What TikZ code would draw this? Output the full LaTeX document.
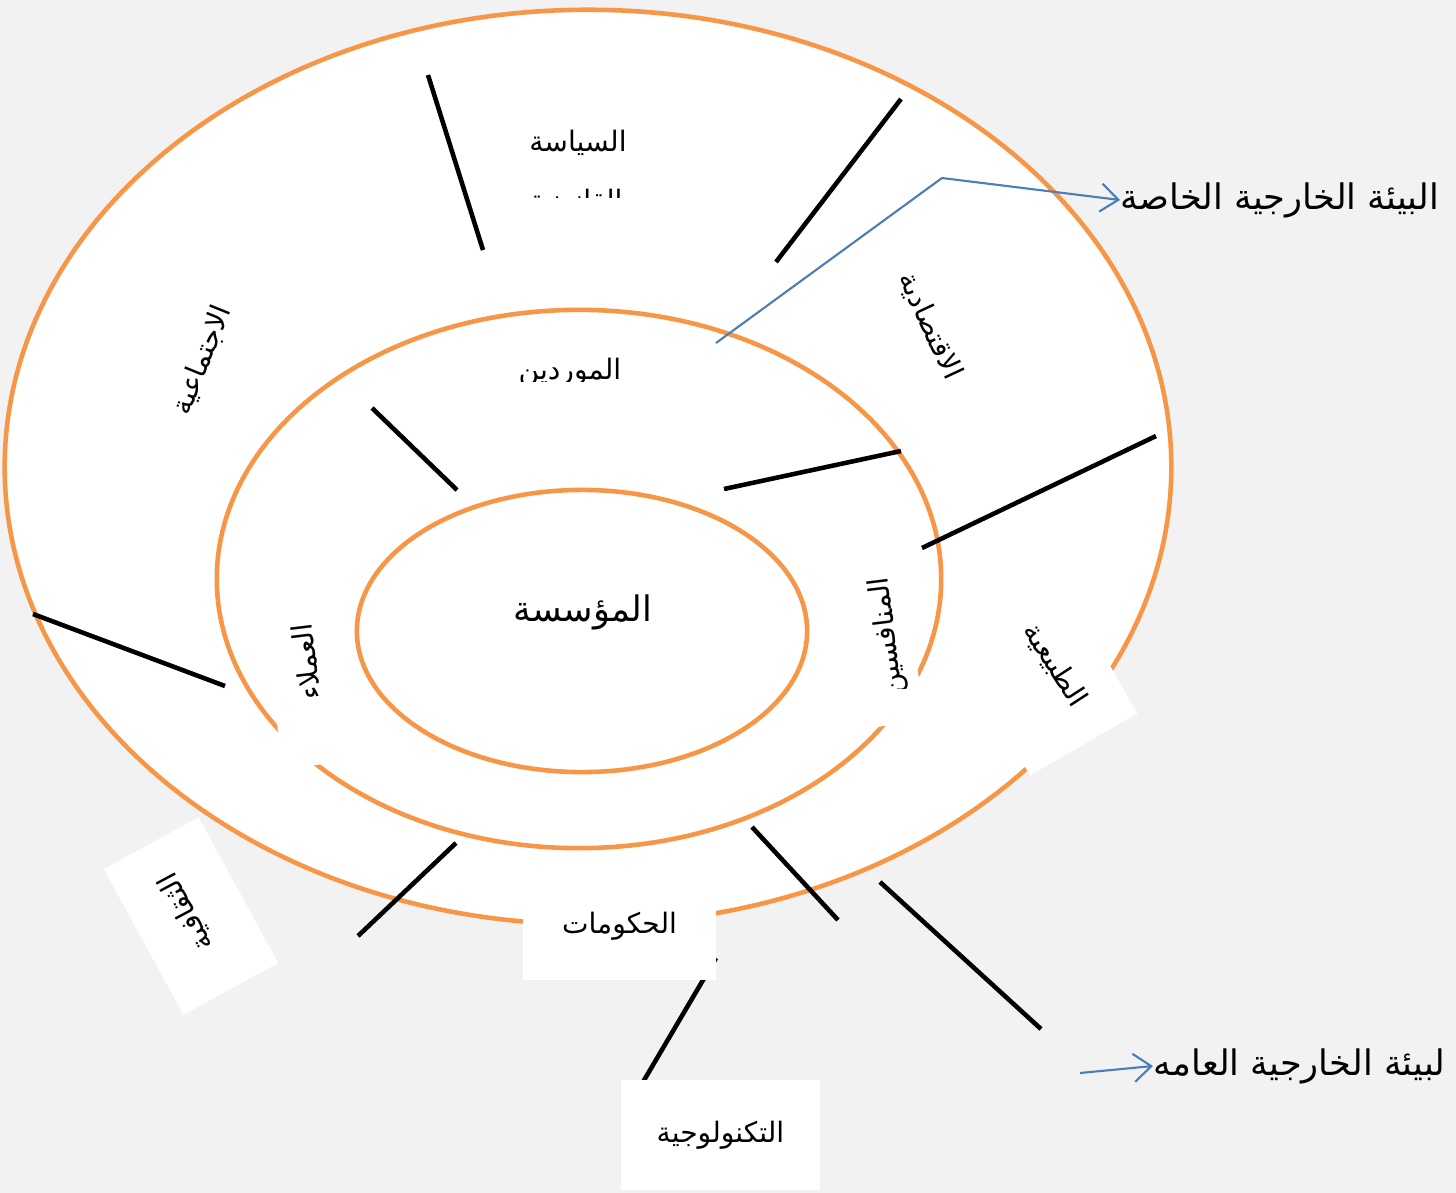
\documentclass[tikz,border=0pt]{standalone}
\usepackage{fontspec}
\TeXXeTstate=1
\newfontfamily\arabicfont[Script=Arabic]{DejaVu Sans}
\newcommand{\artxt}[1]{{\arabicfont\beginR #1\endR}}
\usetikzlibrary{arrows.meta}
\definecolor{ringorange}{RGB}{247,150,70}
\definecolor{pagegray}{RGB}{242,242,242}
\definecolor{arrowblue}{RGB}{74,126,187}

\begin{document}
\begin{tikzpicture}[x=0.01cm, y=-0.01cm,
  ring/.style={draw=ringorange, line width=1.3pt, fill=white},
  spoke/.style={line width=1.3pt, black},
  label/.style={inner sep=0pt, font=\fontsize{8}{10}\selectfont},
  biglabel/.style={inner sep=0pt, font=\fontsize{10}{12}\selectfont},
  cover/.style={fill=white, draw=none, inner sep=0pt},
  pointer/.style={draw=arrowblue, line width=0.6pt,
                  -{Straight Barb[length=5pt,width=8pt]}}
]

\fill[pagegray] (0,0) rectangle (1456,1193);

%% the three rings
\draw[ring] (588,467) ellipse [x radius=5.83cm, y radius=4.57cm];
\draw[ring] (579,579) ellipse [x radius=3.62cm, y radius=2.69cm];
\draw[ring] (582,631) ellipse [x radius=2.25cm, y radius=1.41cm];

%% spokes between the sectors
\draw[spoke] (428,75)   -- (483,250);
\draw[spoke] (901,99)   -- (776,262);
\draw[spoke] (372,408)  -- (457,490);
\draw[spoke] (724,489)  -- (901,451);
\draw[spoke] (1156,436) -- (922,548);
\draw[spoke] (33,614)   -- (225,686);
\draw[spoke] (456,843)  -- (358,936);
\draw[spoke] (752,827)  -- (838,920);
\draw[spoke] (880,882)  -- (1041,1029);
\draw[spoke] (716,958)  -- (643,1082);

%% white text boxes
\node[cover, rotate=97, minimum width=1.7cm, minimum height=0.76cm]
      (clientsbox) at (310,680) {};
\node[cover, rotate=99, minimum width=1.5cm, minimum height=0.6cm]
      (rivalsbox) at (884,650) {};
\node[cover, rotate=-60, minimum width=1.67cm, minimum height=1.24cm]
      (naturebox) at (1042,672) {};
\node[cover, rotate=118.7, minimum width=1.66cm, minimum height=1.08cm]
      (culturebox) at (191,916) {};

%% labels
\node[biglabel] (firm) at (583,612) {\artxt{المؤسسة}};
\node[label] (politics) at (578,143) {\artxt{السياسة}};
\begin{scope}
  \clip (480,100) rectangle (680,197);
  \node[label] (legal) at (576,203) {\artxt{القانونية}};
\end{scope}
\begin{scope}
  \clip (480,330) rectangle (680,381);
  \node[label] (suppliers) at (570,372) {\artxt{الموردين}};
\end{scope}
\begin{scope}
  \clip (820,560) rectangle (960,688);
  \node[label, rotate=97] (rivals) at (888,636) {\artxt{المنافسين}};
\end{scope}
\node[label, rotate=68]  (social)   at (202,360)  {\artxt{الاجتماعية}};
\node[label, rotate=-65] (economic) at (930,326)  {\artxt{الاقتصادية}};
\node[label, rotate=97]  (clients)  at (306,662)  {\artxt{العملاء}};
\node[label, rotate=-57] (nature)   at (1055,665) {\artxt{الطبيعية}};
\node[label, rotate=118] (culture)  at (186,912)  {\artxt{الثقافية}};
\node[label, cover, minimum width=1.93cm, minimum height=1.08cm]
      (gov) at (619.5,926) {\artxt{الحكومات}};
\node[label, cover, minimum width=1.99cm, minimum height=1.10cm]
      (tech) at (720.5,1135) {\artxt{التكنولوجية}};

\node[biglabel, anchor=west] (special) at (1120,200)
      {\artxt{البيئة الخارجية الخاصة}};
\node[biglabel, anchor=west] (general) at (1153,1066)
      {\artxt{لبيئة الخارجية العامه}};

%% pointers to the two environments
\coordinate (specialtail) at (716,343);
\coordinate (specialbend) at (942,178);
\coordinate (generaltail) at (1080,1073);
\draw[pointer] (specialtail) -- (specialbend) -- (special.west);
\draw[pointer] (generaltail) -- (general.west);

\end{tikzpicture}
\end{document}
